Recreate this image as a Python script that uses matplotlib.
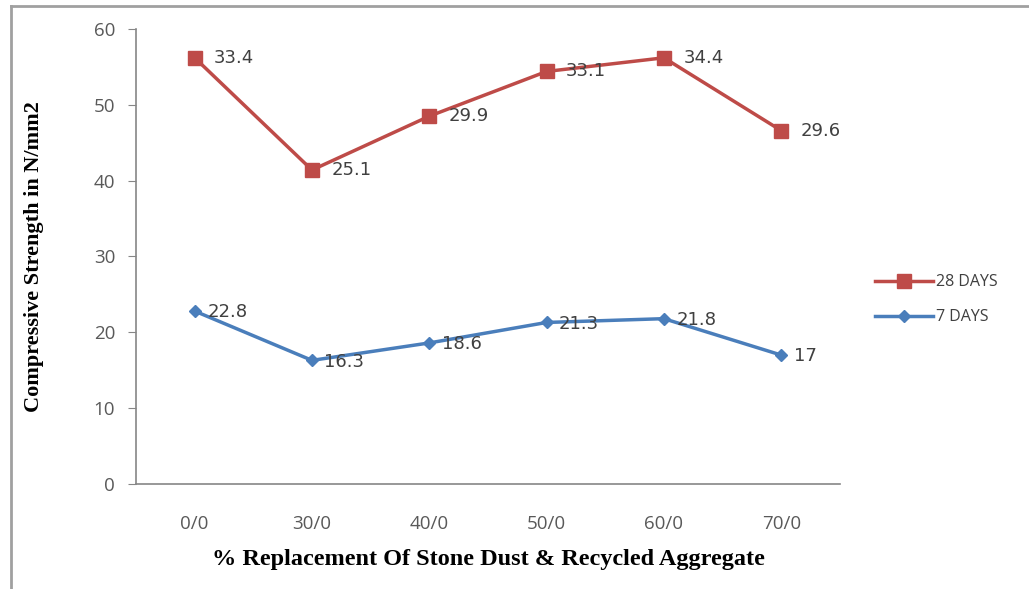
import matplotlib
matplotlib.use("Agg")
import matplotlib.pyplot as plt
from matplotlib.lines import Line2D

categories = ["0/0", "30/0", "40/0", "50/0", "60/0", "70/0"]
days7 = [22.8, 16.3, 18.6, 21.3, 21.8, 17]
days28 = [33.4, 25.1, 29.9, 33.1, 34.4, 29.6]
# Stacked line chart: 28-day series is drawn on top of the 7-day series
days28_stacked = [a + b for a, b in zip(days7, days28)]

red = "#BE4B48"
blue = "#4A7EBB"
txt = "#404040"
tick_txt = "#595959"

fig = plt.figure(figsize=(10.29, 5.89), dpi=100)
ax = fig.add_axes([0.1322, 0.1783, 0.684, 0.7725])

x = list(range(len(categories)))
ax.plot(x, days28_stacked, color=red, lw=2.5, marker="s", ms=10,
        mfc=red, mec=red, label="28 DAYS", zorder=3)
ax.plot(x, days7, color=blue, lw=2.5, marker="D", ms=6.5,
        mfc=blue, mec=blue, label="7 DAYS", zorder=3)

for xi, yi, v in zip(x, days28_stacked, days28):
    ax.annotate(f"{v:g}", (xi, yi), xytext=(14, 0), textcoords="offset points",
                va="center", ha="left", fontsize=13, color=txt,
                family="DejaVu Sans")
for xi, yi, v in zip(x, days7, days7):
    ax.annotate(f"{v:g}", (xi, yi), xytext=(9, -1), textcoords="offset points",
                va="center", ha="left", fontsize=13, color=txt,
                family="DejaVu Sans")

ax.set_xlim(-0.5, len(categories) - 0.5)
ax.set_ylim(0, 60)
ax.set_yticks(range(0, 61, 10))
ax.set_xticks(x)
ax.set_xticklabels(categories)
for s in ["top", "right"]:
    ax.spines[s].set_visible(False)
for s in ["left", "bottom"]:
    ax.spines[s].set_color("#868686")
    ax.spines[s].set_linewidth(1.2)
ax.tick_params(axis="y", direction="out", length=6, color="#868686",
               labelsize=13.5, labelcolor=tick_txt, pad=9)
ax.tick_params(axis="x", length=0, labelsize=13.5, labelcolor=tick_txt, pad=22)
for lab in ax.get_xticklabels() + ax.get_yticklabels():
    lab.set_family("Open Sans")

ax.set_ylabel("Compressive Strength in N/mm2", family="Liberation Serif",
              fontweight="bold", fontsize=16, labelpad=36)
ax.set_xlabel("% Replacement Of Stone Dust & Recycled Aggregate",
              family="Liberation Serif", fontweight="bold", fontsize=17.5, labelpad=12)

leg = ax.legend(loc="center left", bbox_to_anchor=(1.03, 0.405), frameon=False,
                prop={"family": "Open Sans", "size": 11.5}, handlelength=3.6,
                labelspacing=1.2, handletextpad=0.2)
for t in leg.get_texts():
    t.set_color(txt)

# outer frame (top and left edges visible)
fig.add_artist(Line2D([0.0105, 0.0105], [0.0, 0.99], transform=fig.transFigure,
                      color="#A0A0A0", lw=2))
fig.add_artist(Line2D([0.0105, 1.0], [0.99, 0.99], transform=fig.transFigure,
                      color="#A0A0A0", lw=2))

fig.savefig("out.png", dpi=100)
